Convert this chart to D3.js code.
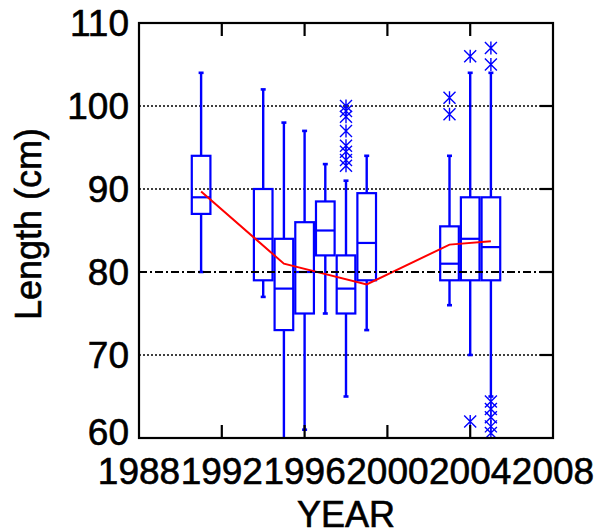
<!DOCTYPE html>
<html>
<head>
<meta charset="utf-8">
<script src="https://cdn.jsdelivr.net/npm/d3@7/dist/d3.min.js"></script>
<style>
	html, body { margin: 0; padding: 0; background: #fff; }
	svg { display: block; font-family: "Liberation Sans", Arial, sans-serif; }
	svg text { fill: #000; stroke: #000; stroke-width: 0.6px; }
</style>
</head>
<body>
<div id="chart"></div>
<script>
// box plot data, one entry per sampled year
var years = [1991, 1994, 1995, 1996, 1997, 1998, 1999, 2003, 2004, 2005];
var whiskerLow = [80, 77, 58, 61, 75, 65, 73, 76, 70, 65];
var q1 = [87, 79, 73, 75, 82, 75, 79, 79, 79, 79];
var median = [89, 84, 78, 80, 85, 78, 83.5, 81, 84, 83];
var q3 = [94, 90, 84, 86, 88.5, 82, 89.5, 85.5, 89, 89];
var whiskerHigh = [104, 102, 98, 97, 93, 91, 94, 94, 104, 104];

// outliers (asterisks)
var outlierYears = [1998, 1998, 1998, 1998, 1998, 1998, 1998, 1998,
	2003, 2003, 2004, 2004, 2005, 2005, 2005, 2005, 2005, 2005, 2005];
var outlierValues = [100, 99.4, 98.7, 97, 95.2, 94.5, 93.5, 92.8,
	101, 99, 106, 62, 107, 105, 64.4, 63.5, 62.5, 61.4, 60.6];

// mean length line (red)
var meanYears = [1991, 1995, 1999, 2003, 2005];
var meanValues = [89.7, 81.0, 78.5, 83.3, 83.7];

// axis ticks
var xTicks = [1988, 1992, 1996, 2000, 2004, 2008];
var yTicks = [60, 70, 80, 90, 100, 110];
var gridValues = [70, 90, 100];
var refValue = 80;

var width = 597, height = 532;
var margin = { left: 139, right: 44, top: 23, bottom: 94 };
var blue = '#0000ff';

var x = d3.scaleLinear().domain([1988, 2008]).range([margin.left, width - margin.right]);
var y = d3.scaleLinear().domain([60, 110]).range([height - margin.bottom, margin.top]);

var svg = d3.select('#chart').append('svg')
	.attr('width', width)
	.attr('height', height);

svg.append('clipPath').attr('id', 'plot-clip')
	.append('rect')
	.attr('x', x.range()[0]).attr('y', y.range()[1])
	.attr('width', x.range()[1] - x.range()[0])
	.attr('height', y.range()[0] - y.range()[1]);

// dotted grid lines
svg.append('g').selectAll('line')
	.data(gridValues)
	.enter().append('line')
	.attr('x1', x.range()[0]).attr('x2', x.range()[1])
	.attr('y1', function (d) { return y(d); })
	.attr('y2', function (d) { return y(d); })
	.attr('stroke', '#000')
	.attr('stroke-width', 1.6)
	.attr('stroke-dasharray', '2,2');

var plot = svg.append('g').attr('clip-path', 'url(#plot-clip)');

var boxW = x(1988.9) - x(1988);
var capW = 5;
var boxes = plot.selectAll('.box')
	.data(years.map(function (yr, i) { return i; }))
	.enter().append('g')
	.attr('class', 'box');

// whiskers
boxes.append('line')
	.attr('x1', function (i) { return x(years[i]); })
	.attr('x2', function (i) { return x(years[i]); })
	.attr('y1', function (i) { return y(whiskerHigh[i]); })
	.attr('y2', function (i) { return y(q3[i]); })
	.attr('stroke', blue).attr('stroke-width', 2.4);
boxes.append('line')
	.attr('x1', function (i) { return x(years[i]); })
	.attr('x2', function (i) { return x(years[i]); })
	.attr('y1', function (i) { return y(q1[i]); })
	.attr('y2', function (i) { return y(whiskerLow[i]); })
	.attr('stroke', blue).attr('stroke-width', 2.4);

// whisker caps
[whiskerHigh, whiskerLow].forEach(function (arr) {
	boxes.append('line')
		.attr('x1', function (i) { return x(years[i]) - capW / 2; })
		.attr('x2', function (i) { return x(years[i]) + capW / 2; })
		.attr('y1', function (i) { return y(arr[i]); })
		.attr('y2', function (i) { return y(arr[i]); })
		.attr('stroke', blue).attr('stroke-width', 2.6);
});

// boxes
boxes.append('rect')
	.attr('x', function (i) { return x(years[i]) - boxW / 2; })
	.attr('y', function (i) { return y(q3[i]); })
	.attr('width', boxW)
	.attr('height', function (i) { return y(q1[i]) - y(q3[i]); })
	.attr('fill', 'none')
	.attr('stroke', blue).attr('stroke-width', 2.2);

// medians
boxes.append('line')
	.attr('x1', function (i) { return x(years[i]) - boxW / 2; })
	.attr('x2', function (i) { return x(years[i]) + boxW / 2; })
	.attr('y1', function (i) { return y(median[i]); })
	.attr('y2', function (i) { return y(median[i]); })
	.attr('stroke', blue).attr('stroke-width', 2.2);

// outliers drawn as asterisks
var star = 'M-6,-6L6,6M-6,6L6,-6M0,-6.5L0,6.5';
plot.selectAll('.outlier')
	.data(outlierValues.map(function (v, i) { return i; }))
	.enter().append('path')
	.attr('class', 'outlier')
	.attr('transform', function (i) {
		return 'translate(' + x(outlierYears[i]) + ',' + y(outlierValues[i]) + ')';
	})
	.attr('d', star)
	.attr('fill', 'none')
	.attr('stroke', blue).attr('stroke-width', 1.4);

// dash-dot reference line at 80
svg.append('line')
	.attr('x1', x.range()[0]).attr('x2', x.range()[1])
	.attr('y1', y(refValue)).attr('y2', y(refValue))
	.attr('stroke', '#000')
	.attr('stroke-width', 2)
	.attr('stroke-dasharray', '8,3,2,3');

// mean line
plot.append('path')
	.datum(meanYears.map(function (yr, i) { return [yr, meanValues[i]]; }))
	.attr('d', d3.line()
		.x(function (d) { return x(d[0]); })
		.y(function (d) { return y(d[1]); }))
	.attr('fill', 'none')
	.attr('stroke', '#ff0000')
	.attr('stroke-width', 2);

// frame
svg.append('rect')
	.attr('x', x.range()[0]).attr('y', y.range()[1])
	.attr('width', x.range()[1] - x.range()[0])
	.attr('height', y.range()[0] - y.range()[1])
	.attr('fill', 'none')
	.attr('stroke', '#000')
	.attr('stroke-width', 2.2);

// inward tick marks: top/bottom for years, right side for lengths
var tickLen = 13;
var ticks = svg.append('g').attr('stroke', '#000').attr('stroke-width', 2.2);
xTicks.slice(1, -1).forEach(function (t) {
	ticks.append('line').attr('x1', x(t)).attr('x2', x(t))
		.attr('y1', y.range()[1]).attr('y2', y.range()[1] + tickLen);
	ticks.append('line').attr('x1', x(t)).attr('x2', x(t))
		.attr('y1', y.range()[0]).attr('y2', y.range()[0] - tickLen);
});
yTicks.slice(1, -1).forEach(function (t) {
	ticks.append('line').attr('x1', x.range()[1]).attr('x2', x.range()[1] - tickLen)
		.attr('y1', y(t)).attr('y2', y(t));
});

// tick labels (the lowest one is nudged up, clear of the year labels)
svg.append('g').selectAll('text')
	.data(yTicks)
	.enter().append('text')
	.attr('x', x.range()[0] - 10)
	.attr('y', function (d, i) { return y(d) - (i === 0 ? 6 : 0); })
	.attr('dy', '0.36em')
	.attr('text-anchor', 'end')
	.style('font-size', '37px')
	.text(function (d) { return d; });

svg.append('g').selectAll('text')
	.data(xTicks)
	.enter().append('text')
	.attr('x', function (d) { return x(d); })
	.attr('y', 484)
	.attr('text-anchor', 'middle')
	.style('font-size', '37px')
	.text(function (d) { return d; });

// axis titles
svg.append('text')
	.attr('x', (x.range()[0] + x.range()[1]) / 2)
	.attr('y', 527)
	.attr('text-anchor', 'middle')
	.style('font-size', '36px')
	.text('YEAR');

svg.append('text')
	.attr('transform', 'translate(41,224) rotate(-90)')
	.attr('text-anchor', 'middle')
	.style('font-size', '36px')
	.text('Length (cm)');
</script>
</body>
</html>
